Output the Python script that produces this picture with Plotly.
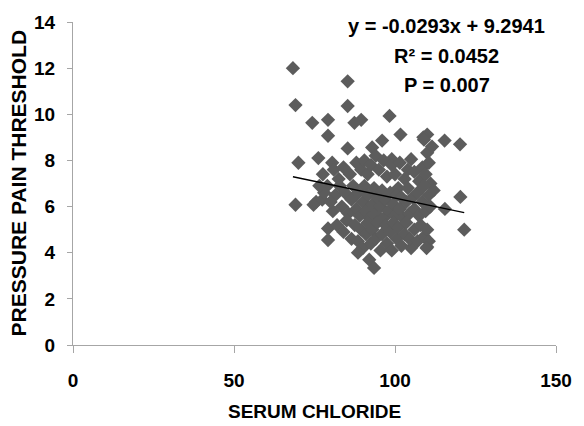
import plotly.graph_objects as go

# Data
serum_chloride = [
    68.3, 69.1, 70.0, 69.1, 74.3, 79.2, 85.3, 85.3, 87.4, 89.5, 98.3, 79.2, 85.3, 92.9, 96.0,
    76.2, 101.7, 110.0, 108.8, 115.4, 120.2, 110.0, 105.0, 99.0, 74.7, 75.5, 79.2, 79.2, 92.0,
    93.5, 101.0, 120.3, 115.5, 121.5, 105.0, 110.0,
    80.5, 81.0, 82.5, 84.0, 86.0, 88.0, 89.5, 90.5, 91.5, 92.5, 94.0, 95.0, 96.5, 97.5, 99.0,
    100.0, 101.5, 103.0, 104.0, 106.0, 107.5, 108.5, 109.5, 110.5, 111.0, 111.5, 109.0,
    77.6, 79.0, 77.4, 80.7, 81.5, 82.8, 83.5, 84.5, 85.5, 86.5, 87.0, 88.0, 88.5, 89.0, 90.0,
    90.5, 91.0, 91.5, 92.0, 93.0, 93.5, 94.0, 94.5, 95.5, 96.0, 96.5, 97.0, 98.0, 98.5, 99.5,
    100.0, 100.5, 101.5, 102.0, 102.5, 103.5, 104.0, 104.5, 105.5, 106.0, 107.0, 107.5, 108.5,
    109.0, 109.5, 110.5, 111.0, 112.0,
    82.0, 84.0, 85.0, 86.5, 87.5, 88.5, 89.5, 90.0, 91.0, 91.5, 92.5, 93.0, 94.0, 94.5, 95.5,
    96.0, 97.0, 97.5, 98.5, 99.0, 99.5, 100.5, 101.0, 102.0, 103.0, 103.5, 104.5, 106.0, 107.0,
    108.0, 109.0, 110.0, 110.5, 109.8, 88.5, 78.0, 80.0, 76.5,
]
pressure_pain_threshold = [
    12.0, 10.4, 7.9, 6.08, 9.63, 9.76, 11.43, 10.36, 9.63, 9.76, 9.93, 9.07, 8.52, 8.56, 8.86,
    8.1, 9.12, 9.12, 9.0, 8.86, 8.7, 8.33, 8.05, 8.05, 6.08, 6.2, 5.05, 4.55, 3.7,
    3.34, 6.8, 6.42, 5.9, 5.0, 4.2, 4.25,
    7.9, 7.6, 7.2, 7.7, 7.4, 7.9, 7.6, 8.0, 7.4, 7.8, 8.2, 7.6, 8.0, 7.3, 7.8,
    7.4, 7.9, 7.2, 7.6, 7.5, 7.1, 7.7, 7.4, 7.9, 7.0, 8.6, 8.9,
    7.4, 6.9, 6.3, 5.8, 6.5, 6.9, 6.0, 6.6, 5.7, 6.3, 6.9, 5.9, 6.6, 5.6, 6.2,
    6.9, 5.8, 6.5, 5.5, 6.1, 6.8, 5.7, 6.4, 6.0, 6.7, 5.5, 6.3, 5.8, 6.6, 6.1,
    5.6, 6.5, 5.9, 6.4, 5.5, 6.2, 6.8, 5.7, 6.4, 5.9, 6.6, 5.6, 6.2,
    6.9, 5.8, 6.5, 6.0, 6.7,
    5.2, 4.9, 5.4, 4.6, 5.2, 4.5, 5.0, 4.2, 4.8, 5.3, 4.4, 5.0, 4.6, 5.3, 4.1,
    4.8, 5.2, 4.4, 4.9, 4.1, 5.3, 4.6, 5.1, 4.3, 4.8, 5.3, 4.6, 5.0, 4.5,
    5.2, 4.7, 5.0, 4.5, 4.2, 4.0, 6.6, 6.2, 6.9,
]

slope = -0.0293
intercept = 9.2941
x_ticks = [0, 50, 100, 150]
y_ticks = [0, 2, 4, 6, 8, 10, 12, 14]
equation_lines = ["y = -0.0293x + 9.2941", "R² = 0.0452", "P = 0.007"]

FONT = "Liberation Sans, Arial, sans-serif"
AXIS_COLOR = "#a6a6a6"

fig = go.Figure()
fig.add_trace(go.Scatter(
    x=serum_chloride, y=pressure_pain_threshold, mode="markers",
    marker=dict(symbol="diamond", size=11, color="#5c5c5c", line=dict(width=0)),
    showlegend=False,
))
x0, x1 = min(serum_chloride), max(serum_chloride)
fig.add_trace(go.Scatter(
    x=[x0, x1], y=[slope * x0 + intercept, slope * x1 + intercept],
    mode="lines", line=dict(color="black", width=1.3), showlegend=False,
))

fig.update_layout(
    width=584, height=426,
    margin=dict(l=73, r=19, t=18, b=81),
    plot_bgcolor="white", paper_bgcolor="white",
    font=dict(family=FONT, color="black"),
    xaxis=dict(
        range=[0, 150], tickvals=x_ticks, showgrid=False, zeroline=False,
        showline=True, linecolor=AXIS_COLOR, linewidth=1,
        ticks="outside", ticklen=7, tickcolor=AXIS_COLOR, tickwidth=1,
        tickfont=dict(family=FONT, size=19, weight="bold", color="black"),
        ticklabelstandoff=11,
    ),
    yaxis=dict(
        range=[0, 14], tickvals=y_ticks, showgrid=False, zeroline=False,
        showline=True, linecolor=AXIS_COLOR, linewidth=1,
        ticks="outside", ticklen=5, tickcolor=AXIS_COLOR, tickwidth=1,
        tickfont=dict(family=FONT, size=19, weight="bold", color="black"),
        ticklabelstandoff=8,
    ),
)

annotations = [
    dict(text="SERUM CHLORIDE", x=0.5, y=-0.205, xref="paper", yref="paper",
         xanchor="center", yanchor="middle", showarrow=False,
         font=dict(family=FONT, size=19, weight="bold", color="black")),
    dict(text="PRESSURE PAIN THRESHOLD", x=-0.112, y=0.5, xref="paper", yref="paper",
         xanchor="center", yanchor="middle", textangle=-90, showarrow=False,
         font=dict(family=FONT, size=21, weight="bold", color="black")),
]
for line, ypos in zip(equation_lines, [0.988, 0.896, 0.804]):
    annotations.append(dict(
        text=line, x=0.774, y=ypos, xref="paper", yref="paper",
        xanchor="center", yanchor="middle", showarrow=False,
        font=dict(family=FONT, size=20, weight="bold", color="black"),
    ))
fig.update_layout(annotations=annotations)

fig.write_html("out.html")
